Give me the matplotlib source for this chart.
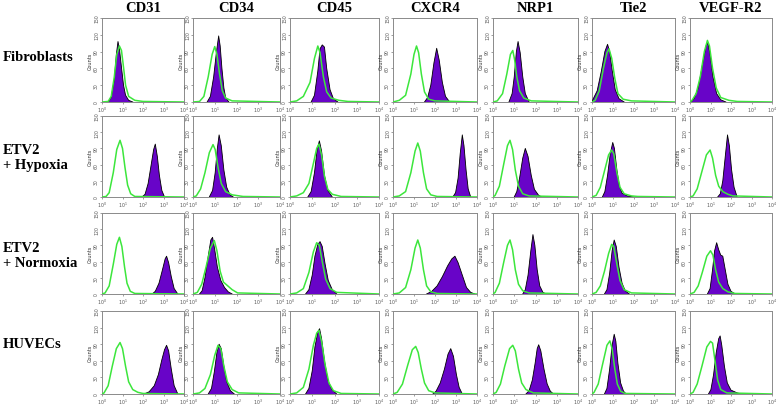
import numpy as np
import matplotlib
matplotlib.use('Agg')
import matplotlib.pyplot as plt

markers = ['CD31', 'CD34', 'CD45', 'CXCR4', 'NRP1', 'Tie2', 'VEGF-R2']
conditions = ['Fibroblasts', 'ETV2\n+ Hypoxia', 'ETV2\n+ Normoxia', 'HUVECs']
xtick_exp = [0, 1, 2, 3, 4]
ytick_vals = [0, 30, 60, 90, 120, 150]

## each curve is a list of (log10 fluorescence, counts)
## stained sample (purple fill)
fib_stain = [
    [(0.3,0),(0.45,8),(0.6,40),(0.7,85),(0.78,108),(0.85,95),(0.95,62),(1.05,30),(1.15,12),(1.3,3),(1.5,0)],
    [(0.65,0),(0.8,10),(0.95,45),(1.08,90),(1.18,118),(1.25,100),(1.33,60),(1.42,25),(1.5,8),(1.65,0)],
    [(0.95,0),(1.1,12),(1.25,55),(1.35,95),(1.45,102),(1.55,98),(1.65,60),(1.8,22),(1.95,6),(2.15,0)],
    [(1.5,0),(1.65,8),(1.8,30),(1.95,70),(2.08,96),(2.2,75),(2.35,35),(2.5,10),(2.7,0)],
    [(0.75,0),(0.9,15),(1.0,45),(1.1,90),(1.18,108),(1.28,88),(1.4,45),(1.52,15),(1.7,0)],
    [(0,0),(0.05,5),(0.25,20),(0.45,55),(0.62,90),(0.75,103),(0.85,90),(0.98,55),(1.12,22),(1.3,6),(1.55,0)],
    [(0.05,0),(0.2,6),(0.4,25),(0.6,65),(0.78,100),(0.87,106),(0.98,85),(1.12,45),(1.3,15),(1.5,4),(1.75,0)],
]
hyp_stain = [
    [(1.95,0),(2.1,5),(2.25,25),(2.4,60),(2.52,88),(2.6,98),(2.7,75),(2.8,40),(2.92,12),(3.05,0)],
    [(0.75,0),(0.9,12),(1.02,45),(1.12,90),(1.2,115),(1.3,95),(1.42,50),(1.55,18),(1.7,4),(1.85,0)],
    [(0.8,0),(0.95,10),(1.1,45),(1.22,88),(1.32,104),(1.42,85),(1.55,40),(1.7,12),(1.9,0)],
    [(2.85,0),(2.98,8),(3.1,35),(3.2,80),(3.3,115),(3.38,95),(3.48,50),(3.58,15),(3.7,0)],
    [(1.0,0),(1.12,10),(1.25,35),(1.4,72),(1.52,90),(1.65,75),(1.8,40),(1.95,14),(2.15,3),(2.3,0)],
    [(0.5,0),(0.62,10),(0.75,40),(0.88,80),(1.0,101),(1.08,90),(1.2,50),(1.32,20),(1.45,7),(1.7,2),(2.0,0)],
    [(1.35,0),(1.48,6),(1.6,30),(1.72,75),(1.83,115),(1.92,95),(2.03,50),(2.15,18),(2.3,0)],
]
norm_stain = [
    [(2.45,0),(2.6,5),(2.78,20),(2.95,45),(3.08,65),(3.15,70),(3.25,58),(3.38,32),(3.52,10),(3.7,0)],
    [(0.3,0),(0.42,6),(0.55,30),(0.7,70),(0.82,100),(0.9,105),(1.0,82),(1.12,50),(1.28,25),(1.45,12),(1.62,4),(1.8,0)],
    [(0.7,0),(0.85,8),(1.0,35),(1.12,70),(1.25,92),(1.35,97),(1.45,88),(1.58,55),(1.72,25),(1.9,8),(2.1,0)],
    [(1.6,0),(1.85,5),(2.1,15),(2.35,32),(2.6,52),(2.8,65),(2.95,70),(3.1,58),(3.3,35),(3.5,12),(3.7,3),(3.9,0)],
    [(1.4,0),(1.52,8),(1.65,35),(1.78,80),(1.88,110),(1.97,90),(2.08,45),(2.2,15),(2.35,3),(2.5,0)],
    [(0.6,0),(0.72,8),(0.85,38),(0.97,80),(1.07,100),(1.17,88),(1.3,50),(1.45,20),(1.6,6),(1.8,0)],
    [(0.85,0),(0.98,10),(1.1,45),(1.2,80),(1.3,95),(1.4,82),(1.5,72),(1.6,70),(1.72,45),(1.85,18),(2.0,5),(2.2,0)],
]
huv_stain = [
    [(2.05,0),(2.3,4),(2.55,15),(2.75,35),(2.92,62),(3.05,80),(3.15,88),(3.25,78),(3.38,45),(3.52,15),(3.7,0)],
    [(0.7,0),(0.85,10),(0.98,40),(1.1,75),(1.2,90),(1.3,82),(1.42,50),(1.55,22),(1.72,6),(1.9,0)],
    [(0.7,0),(0.85,10),(1.0,42),(1.12,85),(1.25,112),(1.33,118),(1.42,100),(1.55,60),(1.7,25),(1.88,8),(2.1,0)],
    [(1.9,0),(2.05,5),(2.25,20),(2.45,45),(2.62,72),(2.75,82),(2.88,68),(3.02,35),(3.15,12),(3.3,0)],
    [(1.55,0),(1.7,6),(1.85,25),(1.98,55),(2.08,82),(2.15,89),(2.25,78),(2.4,45),(2.55,18),(2.7,5),(2.85,0)],
    [(0.6,0),(0.72,10),(0.85,45),(0.97,88),(1.07,108),(1.15,95),(1.25,55),(1.38,20),(1.52,5),(1.65,0)],
    [(0.9,0),(1.02,8),(1.15,35),(1.28,75),(1.4,100),(1.47,105),(1.55,88),(1.68,50),(1.82,20),(2.0,7),(2.3,2),(2.5,0)],
]

## isotype control (green line)
fib_iso = [
    [(0,0),(0.3,1),(0.45,10),(0.6,45),(0.72,85),(0.85,100),(0.95,92),(1.05,62),(1.15,30),(1.3,10),(1.6,3),(2.0,1),(4,0)],
    [(0,0),(0.3,1),(0.5,10),(0.7,45),(0.88,85),(1.0,99),(1.1,85),(1.22,50),(1.35,20),(1.5,7),(1.8,2),(4,0)],
    [(0,0),(0.3,2),(0.6,10),(0.9,35),(1.1,78),(1.25,100),(1.35,88),(1.5,45),(1.65,18),(1.85,7),(2.2,3),(2.6,1),(4,0)],
    [(0,0),(0.3,3),(0.6,12),(0.85,50),(1.0,85),(1.12,100),(1.22,88),(1.35,50),(1.5,18),(1.7,5),(2.0,2),(4,0)],
    [(0,0),(0.2,2),(0.45,15),(0.65,50),(0.82,85),(0.93,92),(1.02,75),(1.12,45),(1.25,20),(1.45,7),(1.8,2),(4,0)],
    [(0,0),(0.15,3),(0.35,20),(0.55,60),(0.72,88),(0.82,95),(0.95,78),(1.1,42),(1.25,15),(1.5,5),(1.9,2),(4,0)],
    [(0,0),(0.1,3),(0.3,15),(0.5,45),(0.7,90),(0.85,110),(0.95,100),(1.1,60),(1.28,25),(1.5,8),(1.9,3),(2.3,1),(4,0)],
]
hyp_iso = [
    [(0,0),(0.2,1),(0.35,8),(0.55,45),(0.72,88),(0.88,105),(1.0,90),(1.12,55),(1.25,22),(1.4,6),(1.6,1),(4,0)],
    [(0,0),(0.15,2),(0.35,15),(0.55,45),(0.75,82),(0.92,97),(1.02,88),(1.15,55),(1.3,25),(1.5,10),(1.8,4),(2.3,1),(4,0)],
    [(0,0),(0.3,2),(0.6,8),(0.85,25),(1.05,62),(1.2,90),(1.3,98),(1.42,78),(1.55,38),(1.7,14),(1.9,5),(2.3,1),(4,0)],
    [(0,0),(0.3,2),(0.6,10),(0.85,45),(1.05,85),(1.18,100),(1.3,85),(1.45,45),(1.6,15),(1.8,4),(2.1,1),(4,0)],
    [(0,0),(0.1,3),(0.3,20),(0.5,60),(0.68,95),(0.8,105),(0.92,88),(1.05,50),(1.2,20),(1.4,6),(1.7,2),(4,0)],
    [(0,0),(0.2,3),(0.4,18),(0.6,48),(0.8,78),(0.95,87),(1.05,80),(1.2,45),(1.35,18),(1.55,6),(1.9,2),(2.2,1),(4,0)],
    [(0,0),(0.15,2),(0.35,15),(0.6,50),(0.8,78),(0.98,87),(1.1,72),(1.25,40),(1.4,20),(1.6,10),(1.85,5),(2.1,2),(4,0)],
]
norm_iso = [
    [(0,0),(0.15,2),(0.35,15),(0.55,55),(0.72,92),(0.85,105),(0.97,88),(1.1,50),(1.22,20),(1.38,5),(1.6,1),(4,0)],
    [(0,0),(0.2,3),(0.4,18),(0.6,50),(0.8,85),(0.98,99),(1.1,80),(1.25,42),(1.4,22),(1.6,15),(1.8,8),(2.05,2),(4,0)],
    [(0,0),(0.3,2),(0.6,10),(0.85,40),(1.05,78),(1.2,95),(1.32,90),(1.45,60),(1.6,28),(1.8,10),(2.1,3),(4,0)],
    [(0,0),(0.3,2),(0.6,12),(0.85,45),(1.05,85),(1.18,100),(1.3,85),(1.45,45),(1.6,15),(1.8,4),(2.1,1),(4,0)],
    [(0,0),(0.1,3),(0.3,20),(0.5,58),(0.68,90),(0.8,100),(0.92,82),(1.05,45),(1.2,18),(1.4,6),(1.7,2),(4,0)],
    [(0,0),(0.2,3),(0.4,15),(0.6,42),(0.8,75),(0.95,92),(1.05,88),(1.2,55),(1.35,25),(1.55,8),(1.9,2),(4,0)],
    [(0,0),(0.2,3),(0.4,15),(0.6,40),(0.82,70),(1.0,80),(1.12,72),(1.25,45),(1.4,22),(1.6,10),(1.85,4),(2.2,1),(4,0)],
]
huv_iso = [
    [(0,0),(0.1,2),(0.3,15),(0.5,50),(0.7,82),(0.88,93),(1.0,82),(1.15,50),(1.3,22),(1.5,8),(1.75,3),(2.0,1),(4,0)],
    [(0,0),(0.3,2),(0.55,10),(0.8,35),(1.0,70),(1.15,88),(1.28,82),(1.42,50),(1.58,22),(1.8,8),(2.1,2),(4,0)],
    [(0,0),(0.3,2),(0.6,12),(0.85,45),(1.05,88),(1.2,110),(1.3,115),(1.42,95),(1.58,52),(1.75,20),(1.95,6),(2.3,1),(4,0)],
    [(0,0),(0.2,3),(0.45,18),(0.7,52),(0.92,80),(1.08,86),(1.2,75),(1.35,45),(1.5,20),(1.7,6),(2.0,2),(4,0)],
    [(0,0),(0.15,3),(0.35,18),(0.55,50),(0.78,82),(0.93,88),(1.05,78),(1.2,45),(1.35,20),(1.55,8),(1.9,2),(4,0)],
    [(0,0),(0.1,3),(0.3,18),(0.5,52),(0.72,88),(0.86,96),(0.97,82),(1.1,45),(1.22,18),(1.38,5),(1.6,1),(4,0)],
    [(0,0),(0.15,3),(0.35,18),(0.58,50),(0.82,85),(1.0,95),(1.1,92),(1.22,60),(1.35,25),(1.5,8),(1.8,2),(4,0)],
]

stains = [fib_stain, hyp_stain, norm_stain, huv_stain]
isos = [fib_iso, hyp_iso, norm_iso, huv_iso]

W, H = 778, 406
col_left = [102, 193, 290, 393, 493, 592, 690]
col_right = [184, 280, 379, 477, 578, 675, 772]
row_top = [19, 117, 214, 312]
row_bot = [103, 198, 295, 395]
label_y = [58, 158, 256, 345]

PURPLE = '#6804c8'
GREEN = '#3ce63c'
serif = ['Liberation Serif', 'DejaVu Serif']

fig = plt.figure(figsize=(W/100, H/100), dpi=100)
fig.patch.set_facecolor('white')

for r in range(4):
    for c in range(7):
        ax = fig.add_axes([col_left[c]/W, 1-row_bot[r]/H,
                           (col_right[c]-col_left[c])/W, (row_bot[r]-row_top[r])/H])
        st = np.array(stains[r][c])
        iso = np.array(isos[r][c])
        ax.fill(10**st[:,0], st[:,1], facecolor=PURPLE, edgecolor='none', zorder=2)
        ax.plot(10**st[:,0], st[:,1], color='black', lw=0.6, zorder=3)
        ax.plot(10**iso[:,0], iso[:,1], color=GREEN, lw=1.1, zorder=4)
        ax.set_xscale('log')
        ax.set_xlim(1, 1e4)
        ax.set_ylim(0, 150)
        ax.set_xticks([10**e for e in xtick_exp])
        ax.set_xticklabels([r'$10^{%d}$' % e for e in xtick_exp], fontsize=3.4, color='#333333')
        ax.xaxis.set_minor_locator(matplotlib.ticker.NullLocator())
        ax.set_yticks(ytick_vals)
        ax.set_yticklabels([str(v) for v in ytick_vals], fontsize=3.3, rotation=90,
                           va='center', color='#333333')
        ax.tick_params(length=1.5, width=0.4, pad=0.6, colors='#555555')
        ax.set_ylabel('Counts', fontsize=3.6, labelpad=0.8, color='#333333')
        for sp in ax.spines.values():
            sp.set_color('#8a8a8a')
            sp.set_linewidth(0.7)
        if r == 0:
            fig.text((col_left[c]+col_right[c])/2/W, 1-9/H, markers[c], ha='center', va='center',
                     fontsize=10.5, fontweight='bold', family=serif)
    fig.text(3/W, 1-label_y[r]/H, conditions[r], ha='left', va='center',
             fontsize=10.5, fontweight='bold', family=serif, linespacing=1.15)

fig.savefig('out.png', dpi=100, facecolor='white')
